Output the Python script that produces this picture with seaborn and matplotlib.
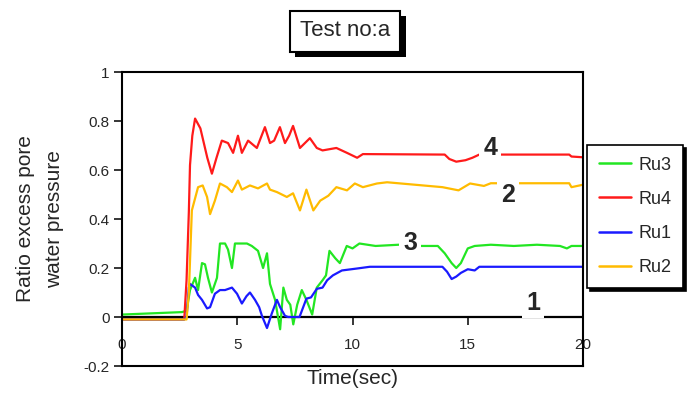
import numpy as np
import pandas as pd
import matplotlib
matplotlib.use("Agg")
import matplotlib.pyplot as plt
import matplotlib.patheffects as pe
import seaborn as sns

# --- data ---
t_ru4 = [0, 2.7, 2.8, 2.9, 2.95, 3.05, 3.17, 3.4, 3.7, 3.9, 4.1, 4.33, 4.6, 4.82, 5.03, 5.2,
         5.47, 5.85, 6.2, 6.42, 6.6, 6.85, 7.07, 7.25, 7.42, 7.72, 8.15, 8.45, 8.7, 9.0, 9.3,
         9.76, 10.2, 10.45, 14.0, 14.2, 14.5, 14.9, 15.2, 15.5, 19.4, 19.5, 20]
y_ru4 = [-0.01, -0.01, 0.15, 0.43, 0.62, 0.74, 0.81, 0.77, 0.65, 0.585, 0.65, 0.72, 0.71, 0.67,
         0.74, 0.67, 0.72, 0.69, 0.775, 0.71, 0.72, 0.775, 0.71, 0.74, 0.78, 0.69, 0.73, 0.69,
         0.68, 0.685, 0.69, 0.67, 0.65, 0.665, 0.663, 0.645, 0.634, 0.64, 0.65, 0.663, 0.663,
         0.655, 0.652]

t_ru2 = [0, 2.8, 2.9, 3.03, 3.3, 3.5, 3.69, 3.82, 4.03, 4.25, 4.55, 4.77, 5.03, 5.2, 5.55, 5.9,
         6.29, 6.42, 6.72, 7.15, 7.42, 7.72, 8.0, 8.3, 8.6, 8.95, 9.3, 9.76, 10.1, 10.45, 11.06,
         11.5, 13.9, 14.6, 15.1, 15.7, 16.0, 19.4, 19.5, 20]
y_ru2 = [-0.01, -0.01, 0.10, 0.435, 0.53, 0.537, 0.49, 0.42, 0.475, 0.545, 0.53, 0.51, 0.557,
         0.52, 0.537, 0.525, 0.545, 0.52, 0.51, 0.49, 0.505, 0.435, 0.52, 0.435, 0.475, 0.495,
         0.53, 0.517, 0.545, 0.53, 0.545, 0.55, 0.53, 0.517, 0.545, 0.535, 0.546, 0.546, 0.53,
         0.54]

t_ru3 = [0, 2.6, 2.8, 2.95, 3.17, 3.3, 3.47, 3.6, 3.73, 3.9, 4.12, 4.25, 4.47, 4.6, 4.77, 4.9,
         5.42, 5.63, 5.9, 6.12, 6.29, 6.42, 6.64, 6.86, 7.0, 7.15, 7.3, 7.43, 7.6, 7.8, 8.0, 8.25,
         8.45, 8.7, 8.85, 9.0, 9.25, 9.45, 9.75, 10.0, 10.3, 11.0, 12.0, 13.0, 13.7, 14.0, 14.3,
         14.5, 14.7, 15.0, 15.3, 16.0, 17.0, 18.0, 19.0, 19.3, 19.5, 20]
y_ru3 = [0.01, 0.02, 0.025, 0.11, 0.16, 0.11, 0.22, 0.215, 0.16, 0.10, 0.16, 0.30, 0.30, 0.275,
         0.20, 0.30, 0.30, 0.29, 0.27, 0.20, 0.26, 0.135, 0.07, -0.05, 0.12, 0.07, 0.05, -0.03,
         0.05, 0.11, 0.07, 0.01, 0.12, 0.15, 0.17, 0.27, 0.24, 0.22, 0.29, 0.28, 0.30, 0.29,
         0.295, 0.29, 0.29, 0.26, 0.22, 0.20, 0.22, 0.28, 0.29, 0.295, 0.29, 0.295, 0.29, 0.28,
         0.29, 0.29]

t_ru1 = [0, 2.7, 2.8, 2.9, 2.95, 3.17, 3.3, 3.47, 3.69, 3.82, 4.03, 4.25, 4.47, 4.77, 4.99, 5.2,
         5.4, 5.55, 5.77, 5.95, 6.07, 6.29, 6.5, 6.72, 6.86, 7.07, 7.2, 7.7, 8.0, 8.2, 8.45, 8.7,
         8.9, 9.15, 9.54, 10.2, 10.75, 13.9, 14.1, 14.3, 14.5, 14.7, 15.0, 15.3, 15.5, 20]
y_ru1 = [-0.01, -0.01, 0.0, 0.12, 0.135, 0.12, 0.09, 0.07, 0.035, 0.04, 0.095, 0.11, 0.11, 0.12,
         0.095, 0.055, 0.085, 0.10, 0.07, 0.04, 0.005, -0.045, 0.015, 0.07, 0.04, 0.005, 0.0,
         0.0, 0.075, 0.08, 0.115, 0.12, 0.15, 0.17, 0.19, 0.198, 0.205, 0.205, 0.185, 0.155,
         0.165, 0.18, 0.195, 0.19, 0.205, 0.205]

series = ["Ru3", "Ru4", "Ru1", "Ru2"]
colors = {"Ru3": "#22e622", "Ru4": "#ff1a1a", "Ru1": "#1a1aff", "Ru2": "#ffbb00"}
curve_labels = ["4", "2", "3", "1"]
label_t = [15.97, 16.75, 12.5, 17.83]
label_y = [0.688, 0.496, 0.304, 0.059]

df = pd.concat([
    pd.DataFrame({"t": t_ru3, "ratio": y_ru3, "series": "Ru3"}),
    pd.DataFrame({"t": t_ru4, "ratio": y_ru4, "series": "Ru4"}),
    pd.DataFrame({"t": t_ru1, "ratio": y_ru1, "series": "Ru1"}),
    pd.DataFrame({"t": t_ru2, "ratio": y_ru2, "series": "Ru2"}),
], ignore_index=True)

sns.set_style("white")
plt.rcParams["font.family"] = ["Liberation Sans", "DejaVu Sans"]
plt.rcParams["axes.unicode_minus"] = False

fig = plt.figure(figsize=(6.94, 3.99), dpi=100)
ax = fig.add_axes([0.1758, 0.0827, 0.6643, 0.7368])

sns.lineplot(data=df, x="t", y="ratio", hue="series", hue_order=series, palette=colors,
             estimator=None, sort=False, legend=False, lw=1.6, ax=ax, zorder=2)
handles = list(ax.lines[:4])

ax.axhline(0, color="black", lw=1.6, zorder=1.5)

ax.set_xlim(0, 20)
ax.set_ylim(-0.2, 1)
ax.set_yticks([-0.2, 0, 0.2, 0.4, 0.6, 0.8, 1])
ax.yaxis.set_major_formatter(plt.FuncFormatter(lambda v, p: "%g" % round(v, 2)))
ax.set_xticks([])
ax.tick_params(axis="y", direction="out", length=6, width=1.3, labelsize=11, left=True, pad=3)
for s in ax.spines.values():
    s.set_color("black")
    s.set_linewidth(1.5)

sec = ax.secondary_xaxis(0.2 / 1.2)
sec.set_xticks([0, 5, 10, 15, 20])
sec.spines["bottom"].set_visible(False)
sec.tick_params(direction="out", length=6, width=1.3, labelsize=11, pad=9)

ax.set_xlabel("Time(sec)", fontsize=15, labelpad=2)
ax.set_ylabel("Ratio excess pore\nwater pressure", fontsize=15, linespacing=1.7)
ax.yaxis.set_label_coords(-0.125, 0.5)

for lab, tx, ty in zip(curve_labels, label_t, label_y):
    ax.text(tx, ty, lab, fontsize=18, fontweight="bold", ha="center", va="center", zorder=5,
            bbox=dict(boxstyle="square,pad=0.15", fc="white", ec="none"))

leg = fig.legend(handles, series, loc="upper left", bbox_to_anchor=(0.846, 0.637),
                 fontsize=13, frameon=True, fancybox=False, edgecolor="black",
                 shadow={"color": "black", "alpha": 1}, handlelength=1.8, labelspacing=0.95,
                 borderpad=0.65, handletextpad=0.4, borderaxespad=0)
leg.get_frame().set_linewidth(1.2)
for h in leg.legend_handles:
    h.set_linewidth(1.8)

title = fig.text(345 / 694, 1 - 31 / 399, "Test no:a", fontsize=16, ha="center", va="center",
                 bbox=dict(boxstyle="square,pad=0.45", fc="white", ec="black", lw=1.5))
title.get_bbox_patch().set_path_effects([
    pe.SimplePatchShadow(offset=(4, -4), shadow_rgbFace="black", alpha=1), pe.Normal()])

fig.savefig("out.png", dpi=100)
